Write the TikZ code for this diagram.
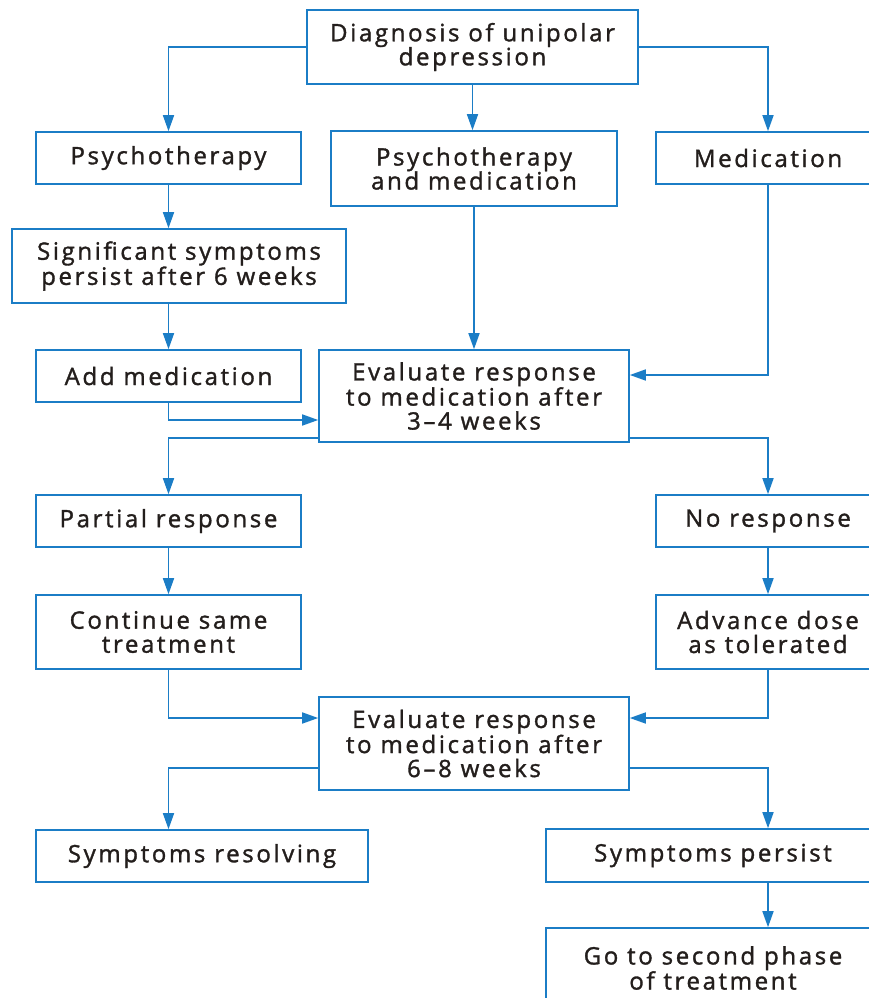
\documentclass[tikz,border=0pt]{standalone}
\usepackage{fontspec}
\setmainfont{Open Sans}[LetterSpace=11,FakeBold=1.4]
\usetikzlibrary{arrows.meta}
\definecolor{fblue}{HTML}{1B7DC6}
\definecolor{ftext}{HTML}{231E1C}
\begin{document}
\begin{tikzpicture}[x=1pt,y=-1pt,
  box/.style={draw=fblue,line width=1.6pt,fill=white,inner sep=0pt,align=center,
    text=ftext,font=\fontsize{24}{24}\selectfont},
  conn/.style={draw=fblue,line width=1.6pt,-{Triangle[length=16pt,width=11pt]}}]
\useasboundingbox (0,0) rectangle (869,998);
% nodes: centre x, centre y, width, height
\node[box,minimum width=331pt,minimum height=74pt] (diag) at (472.5,47) {Diagnosis of unipolar\\depression};
\node[box,minimum width=265pt,minimum height=52pt] (psy) at (168.5,158) {Psychotherapy};
\node[box,minimum width=286pt,minimum height=75pt] (pm) at (474,168.5) {Psychotherapy\\and medication};
\node[box,minimum width=224pt,minimum height=52pt] (med) at (768,158) {Medication};
\node[box,minimum width=334pt,minimum height=74pt] (sig) at (179,266) {Significant symptoms\\persist after 6 weeks};
\node[box,minimum width=265pt,minimum height=52pt] (add) at (168.5,376) {Add medication};
\node[box,minimum width=310pt,minimum height=92pt] (evone) at (474,396) {Evaluate response\\to medication after\\3–4 weeks};
\node[box,minimum width=265pt,minimum height=52pt] (part) at (168.5,521) {Partial response};
\node[box,minimum width=224pt,minimum height=52pt] (nores) at (768,521) {No response};
\node[box,minimum width=265pt,minimum height=74pt] (cont) at (168.5,632) {Continue same\\treatment};
\node[box,minimum width=224pt,minimum height=74pt] (adv) at (768,632) {Advance dose\\as tolerated};
\node[box,minimum width=310pt,minimum height=93pt] (evtwo) at (474,743.5) {Evaluate response\\to medication after\\6–8 weeks};
\node[box,minimum width=332pt,minimum height=52pt] (resol) at (202,856) {Symptoms resolving};
\node[box,minimum width=334pt,minimum height=53pt] (pers) at (713,855.5) {Symptoms persist};
\node[box,minimum width=334pt,minimum height=80pt] (second) at (713,968) {Go to second phase\\of treatment};
% connectors
\draw[conn] (diag.west) -| (psy.north);
\draw[conn] (diag.south) -- (diag.south |- pm.north);
\draw[conn] (diag.east) -| (med.north);
\draw[conn] (psy.south) -- (sig.north -| psy.south);
\draw[conn] (sig.south -| psy.south) -- (add.north);
\draw[conn] (add.south) |- ([yshift=-24pt]evone.west);
\draw[conn] (pm.south) -- (evone.north -| pm.south);
\draw[conn] (med.south) |- ([yshift=21pt]evone.east);
\draw[conn] ([yshift=-42pt]evone.west) -| (part.north);
\draw[conn] ([yshift=-42pt]evone.east) -| (nores.north);
\draw[conn] (part.south) -- (cont.north);
\draw[conn] (nores.south) -- (adv.north);
\draw[conn] (cont.south) |- ([yshift=25.5pt]evtwo.west);
\draw[conn] (adv.south) |- ([yshift=25.5pt]evtwo.east);
\draw[conn] ([yshift=-24.5pt]evtwo.west) -| (part.north |- resol.north);
\draw[conn] ([yshift=-24.5pt]evtwo.east) -| (nores.north |- pers.north);
\draw[conn] (pers.south -| nores.south) -- (second.north -| nores.south);
\end{tikzpicture}
\end{document}
